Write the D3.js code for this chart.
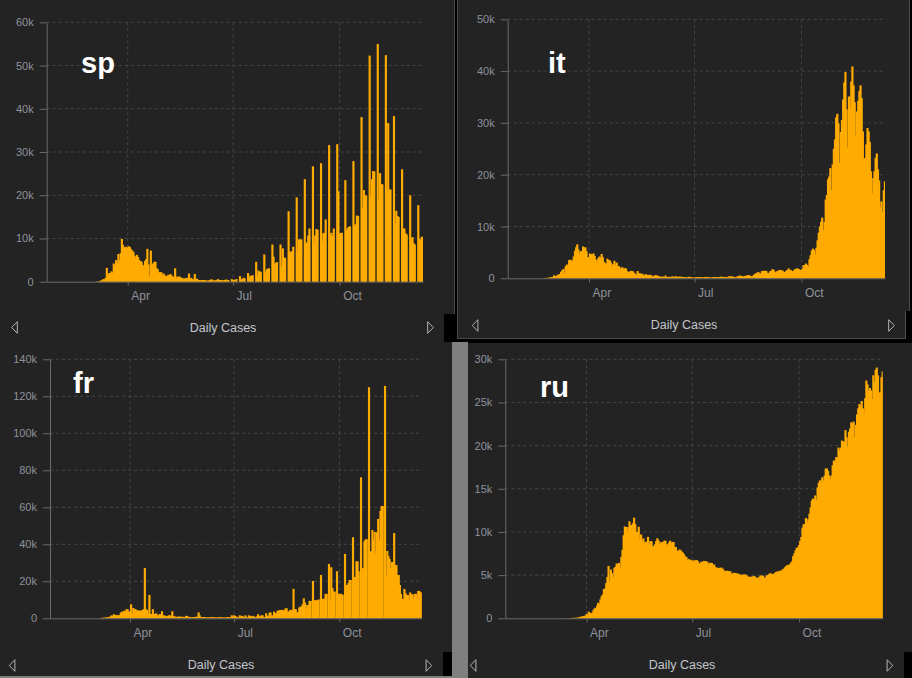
<!DOCTYPE html>
<html>
<head>
  <meta charset="utf-8">
  <title>Daily Cases</title>
  <script src="https://d3js.org/d3.v7.min.js"></script>
  <style>
    body { margin: 0; background: #000; }
    svg { display: block; }
  </style>
</head>
<body>
<script>
// daily new cases in thousands, one value per day from 2020-01-22 to 2020-12-11
var spCases = [
  0,0,0,0,0,0,0,0,0,0,
  0,0,0,0,0,0,0,0,0,0, 0,0,0,0,0,0,0,0,0,0, 0,0,0,0,0,0,0,0,0,
  0,0,0,0.05,0.05, 0.1,0.1,0.3,0.3,0.6, 0.5,0.9,3.2,1.5,2.0, 1.9,2.4,2.1,4.2,3.5, 5.0,4.3,6.4,5.0,6.6, 9.9,8.5,8.0,7.9,8.1, 7.8,
  8.2,8.0,7.5,7.2,6.9, 6.0,5.5,6.2,5.7,5.0, 4.8,4.6,3.9,3.5,4.8, 5.2,7.6,4.0,1.2,7.2, 4.0,4.2,4.6,4.6,3.1, 2.9,2.1,2.2,2.2,1.5,
  1.9,1.5,1.3,1.2,1.6, 1.5,1.8,1.4,1.2,1.0, 3.1,0.9,1.2,1.1,1.2, 0.8,0.9,0.6,0.8,0.7, 0.9,0.8,1.9,0.6,0.9, 0.5,0.6,1.8,0.5,0.7, 0.4,
  0.4,0.3,0.4,0.4,0.4, 0.3,0.3,0.2,0.3,0.4, 0.5,0.5,0.3,0.3,0.3, 0.4,0.6,0.4,0.4,0.4, 0.3,0.3,0.4,0.5,0.4, 0.4,0,0,0.6,0.4,
  0.4,0.5,0.6,0,0, 1.3,0.4,0.6,0.9,0.8, 0,0,2.0,0.9,1.4, 1.3,1.5,0,0,4.6, 1.4,2.6,2.3,2.3,0, 0,6.3,2.1,2.8,3.0, 3.1,
  0,0,8.6,5.8,4.0, 4.4,4.5,0,0,8.6, 3.6,7.7,5.6,5.5,0, 0,16.3,6.8,7.0,7.0, 8.1,0,0,19.5,7.1, 9.8,9.7,9.8,0,0, 23.7,
  8.7,9.1,10.7,12.3,0, 0,26.7,8.9,10.7,12.2, 12.0,0,0,27.4,9.4, 11.2,11.3,14.4,0,0, 31.6,10.8,11.3,10.6,12.3, 0,0,31.8,20.9,11.0,
  11.3,11.3,0,0,23.5, 11.9,12.4,12.7,12.8,0, 0,27.9,13.0,13.3,15.3, 15.2,0,0,38.1,17.0, 21.2,20.0,19.9,0,0, 52.3,19.8,23.7,25.6,25.5, 0,
  0,55.0,18.9,25.1,22.6, 22.5,0,0,52.4,21.0, 36.7,21.4,21.3,0,0, 38.3,13.5,16.4,15.2,15.0, 0,0,26.0,12.3,12.3, 11.2,10.9,0,0,20.0,
  10.0,10.3,8.9,8.6,0, 0,17.7,9.9,9.7,10.4, 10.3
];

var itCases = [
  0,0,0,0,0,0,0,0,0,0,
  0,0,0,0,0,0,0,0,0,0, 0,0,0,0,0,0,0,0,0,0, 0.02,0.04,0.09,0.07,0.09,0.13,0.2,0.23,0.24,
  0.57,0.34,0.47,0.59,0.77,0.78,1.25,1.49,1.80,0.98, 2.31,2.65,2.55,3.50,3.59,3.23,3.53,4.21,5.32,5.99, 6.56,5.56,4.79,5.25,5.21,6.15,5.96,5.97,5.22,4.05, 4.05,
  4.78,4.67,4.59,4.81,4.32,3.60,3.04,3.84,4.20,3.95, 4.69,4.09,3.15,2.97,2.67,3.79,3.49,3.49,3.05,2.26, 2.73,3.37,2.65,3.02,2.36,2.32,1.74,2.09,2.09,1.87,
  1.97,1.90,1.39,1.22,1.08,1.44,1.40,1.33,1.08,0.80, 0.74,1.40,0.89,0.99,0.79,0.88,0.68,0.45,0.81,0.67, 0.64,0.65,0.67,0.53,0.30,0.40,0.58,0.59,0.52,0.42, 0.36,
  0.18,0.32,0.32,0.18,0.52,0.27,0.20,0.28,0.28,0.20, 0.38,0.16,0.35,0.34,0.30,0.21,0.33,0.33,0.25,0.26, 0.22,0.22,0.12,0.19,0.30,0.26,0.18,0.17,0.13,0.14,
  0.19,0.20,0.22,0.24,0.19,0.21,0.14,0.19,0.23,0.28, 0.19,0.23,0.17,0.11,0.16,0.23,0.23,0.25,0.22,0.19, 0.13,0.28,0.31,0.25,0.28,0.26,0.17,0.21,0.29,0.39, 0.38,
  0.30,0.35,0.24,0.16,0.19,0.38,0.40,0.55,0.35,0.46, 0.26,0.41,0.48,0.52,0.57,0.63,0.48,0.32,0.40,0.64, 0.85,0.95,1.07,1.21,0.95,0.88,1.37,1.41,1.46,1.44, 1.37,
  1.00,0.98,1.33,1.40,1.73,1.70,1.30,1.11,1.37,1.43, 1.60,1.62,1.50,1.46,1.01,1.23,1.45,1.59,1.91,1.64, 1.59,1.35,1.39,1.64,1.79,1.91,1.87,1.77,1.49,1.65,
  1.85,2.55,2.50,2.84,2.58,2.26,3.68,4.46,5.37,5.72, 5.46,4.62,5.90,7.33,8.80,10.01,10.93,11.71,9.34,10.87, 15.20,16.08,19.14,19.64,21.27,17.01,21.99,24.99,26.83,31.08, 31.76,
  29.91,22.25,28.24,30.55,34.51,37.81,39.81,32.62,25.27,35.10, 32.96,37.98,40.90,37.26,33.98,27.35,32.19,34.28,36.18,37.24, 34.77,28.34,22.93,23.23,25.85,29.00,28.35,26.32,20.65,16.38,
  19.35,20.71,23.23,24.10,21.05,18.89,13.72,14.84,12.76,17.00, 18.73
];

var frCases = [
  0,0,0,0,0,0,0,0,0,0,
  0,0,0,0,0,0,0,0,0,0, 0,0,0,0,0,0,0,0,0,0, 0,0,0,0,0,0,0,0,0,
  0,0,0,0,0.1, 0.2,0.2,0.4,0.3,0.4, 0.5,0.6,0.8,1.0,1.6, 1.2,2.2,1.6,1.7,1.6, 1.6,1.8,3.0,3.6,3.4, 4.1,3.9,4.9,4.9,3.6, 3.6,
  7.6,2.7,5.6,4.9,4.9, 4.1,4.3,4.1,4.1,4.2, 4.5,4.9,27.2,4.9,4.5, 2.7,12.6,2.3,2.3,4.9, 2.3,2.4,2.7,1.6,1.6, 2.3,2.2,3.8,1.6,1.6,
  0.9,1.3,1.0,1.6,1.6, 1.0,3.8,1.3,0.9,0.9, 0.5,0.9,0.9,0.9,0.7, 0.9,0.5,0.6,1.3,1.3, 0.7,0.8,0.5,0.5,0.6, 0.7,0.6,0.9,0.7,3.2, 1.6,
  0.5,0.6,0.7,0.6,0.6, 0.5,0.4,0.4,0.5,0.6, 0.6,0.6,0.5,0.4,0.4, 0.5,0.6,0.6,0.5,0.4, 0.4,0.4,0.5,0.6,0.6, 0.5,0.4,1.6,0.6,1.6,
  1.3,0.9,0.6,0.5,1.6, 0.5,1.3,0.9,0.6,1.6, 0.5,0.5,1.6,0.5,1.3, 0.6,1.3,0.5,0.6,1.0, 2.2,1.3,0.9,1.6,1.6, 0.6,0.6,2.7,1.3,1.4, 3.1,
  3.1,1.3,1.6,3.6,2.7, 2.7,4.1,4.1,4.5,4.5, 4.5,4.5,4.2,5.4,5.4, 3.6,3.6,4.5,4.0,4.7, 15.9,4.9,4.9,3.2,3.2, 5.8,6.3,6.3,7.6,10.8, 8.5,
  5.0,7.2,7.2,9.4,9.4, 0.4,20.2,9.7,9.7,9.7, 9.8,10.2,0.5,23.4,10.5, 10.5,10.6,13.2,13.2,0.5, 29.4,10.5,27.6,16.4,14.4, 14.4,0.5,25.4,13.0,13.3,
  13.2,13.2,12.6,0.5,34.8, 18.0,18.0,19.0,20.7,20.7, 0.5,43.8,22.3,22.3,30.8, 30.8,25.4,0.5,76.2,27.0, 27.0,41.6,42.7,42.7,0.5, 124.9,36.2,36.2,47.7,42.3, 46.7,
  35.1,46.5,53.7,42.2,58.0, 60.7,60.7,0.5,125.6,22.9, 36.4,33.7,32.1,27.2,30.4, 30.4,46.1,28.8,28.8,23.4, 23.4,18.0,13.2,10.5,10.5, 15.9,13.5,12.6,12.6,9.7,
  14.0,13.0,13.0,11.2,13.2, 13.2,10.8,14.8,14.8,14.2, 13.7
];

var ruCases = [
  0,0,0,0,0,0,0,0,0,0,
  0,0,0,0,0,0,0,0,0,0, 0,0,0,0,0,0,0,0,0,0, 0,0,0,0,0,0,0,0,0,
  0,0,0,0,0, 0,0,0,0,0, 0.01,0.01,0.01,0.01,0.01, 0.03,0.02,0.03,0.05,0.05, 0.05,0.06,0.07,0.06,0.16, 0.18,0.20,0.23,0.27,0.30, 0.50,
  0.44,0.77,0.60,0.58,0.66,0.95,1.15,1.18,1.46,1.79, 1.67,2.19,2.56,2.77,3.39,3.45,4.07,4.79,6.06,4.27, 5.64,5.24,4.77,5.85,5.97,6.36,6.20,6.41,5.84,7.10,
  7.93,9.62,10.63,10.58,10.10,10.56,11.23,10.70,10.82,11.01, 11.66,10.90,10.03,9.97,10.60,9.20,9.71,8.93,9.26,8.76, 8.85,8.89,9.43,8.60,8.95,8.92,8.34,8.37,8.57,8.95, 9.27,
  9.04,8.54,8.83,8.73,8.86,8.98,8.99,8.60,8.40,8.78, 8.99,8.71,8.84,8.84,8.25,8.25,7.84,7.79,7.97,7.89, 7.73,7.60,7.43,7.18,7.11,6.80,6.85,6.79,6.72,6.69,
  6.56,6.76,6.63,6.74,6.61,6.37,6.37,6.56,6.51,6.64, 6.62,6.61,6.54,6.25,6.42,6.43,6.41,6.11,6.23,5.94, 5.84,5.86,5.81,5.85,5.87,5.77,5.64,5.40,5.48,5.51, 5.48,
  5.46,5.43,5.16,5.20,5.27,5.24,5.21,5.19,5.12,5.10, 4.95,5.04,5.06,5.07,5.06,4.97,4.84,4.75,4.83,4.77, 4.84,4.92,4.85,4.68,4.70,4.71,4.83,4.94,4.98,4.90, 4.73,
  4.67,4.95,5.00,5.11,5.20,5.19,5.10,5.10,5.22,5.36, 5.41,5.42,5.45,5.51,5.53,5.67,5.76,5.91,6.07,6.15, 6.20,6.22,6.43,6.60,7.21,7.52,7.87,8.14,8.23,8.48,
  8.95,9.41,10.50,10.89,10.89,11.62,11.12,11.49,12.13,12.85, 13.63,13.87,13.75,14.23,13.75,15.15,15.70,15.98,15.72,16.32, 15.97,16.52,17.34,17.35,17.09,16.55,16.20,16.54,17.72,18.28, 18.14,
  18.67,18.65,19.77,19.40,19.77,20.58,20.50,20.40,21.80,20.98, 19.85,21.61,21.98,22.70,22.57,22.78,20.98,22.41,23.61,24.32, 24.82,24.58,25.17,24.33,23.68,25.49,27.54,27.10,26.34,26.68,
  26.40,25.35,28.15,27.40,28.78,29.04,28.14,26.10,26.19,27.93, 28.59
];

var countries = ["sp", "it", "fr", "ru"];
var monthTicks = ["2020-04-01", "2020-07-01", "2020-10-01"];
var spTicks = [0, 10, 20, 30, 40, 50, 60];
var itTicks = [0, 10, 20, 30, 40, 50];
var frTicks = [0, 20, 40, 60, 80, 100, 120, 140];
var ruTicks = [0, 5, 10, 15, 20, 25, 30];
var footerText = "Daily Cases";

var width = 912;
var height = 678;
var barColor = "#ffab00";
var panelColor = "#232323";
var textColor = "#8e929b";

// days of the series
var dates = d3.utcDay.range(new Date(Date.UTC(2020, 0, 22)), new Date(Date.UTC(2020, 11, 12)));
var tickDates = monthTicks.map(function(s) { return d3.utcParse("%Y-%m-%d")(s); });

var svg = d3.select("body").append("svg").attr("width", width).attr("height", height);

// screenshot frames: background, panels, dividers
svg.append("rect").attr("width", width).attr("height", height).attr("fill", "#000");
svg.append("rect").attr("x", 0).attr("y", 0).attr("width", 455).attr("height", 342).attr("fill", panelColor);
svg.append("rect").attr("x", 457).attr("y", 0).attr("width", 453).attr("height", 311).attr("fill", panelColor);
svg.append("rect").attr("x", 457).attr("y", 311).attr("width", 449).attr("height", 28).attr("fill", panelColor);
svg.append("rect").attr("x", 0).attr("y", 342).attr("width", 452).attr("height", 334).attr("fill", panelColor);
svg.append("rect").attr("x", 468).attr("y", 343).attr("width", 444).attr("height", 335).attr("fill", panelColor);
svg.append("rect").attr("x", 452).attr("y", 342).attr("width", 16).attr("height", 336).attr("fill", "#808080");
svg.append("rect").attr("x", 0).attr("y", 676).attr("width", 452).attr("height", 2).attr("fill", "#808080");
svg.append("rect").attr("x", 444).attr("y", 314).attr("width", 13).attr("height", 28).attr("fill", "#000");
svg.append("rect").attr("x", 443).attr("y", 652).attr("width", 9).attr("height", 24).attr("fill", "#000");
svg.append("rect").attr("x", 904).attr("y", 652).attr("width", 8).attr("height", 26).attr("fill", "#000");

var frameLines = [
  [454.5, 0, 454.5, 314],
  [457.5, 0, 457.5, 339],
  [457, 338.5, 906, 338.5],
  [905.5, 311, 905.5, 339],
  [909.5, 0, 909.5, 311]
];
svg.selectAll(".frame").data(frameLines).enter().append("line")
  .attr("x1", function(d) { return d[0]; })
  .attr("y1", function(d) { return d[1]; })
  .attr("x2", function(d) { return d[2]; })
  .attr("y2", function(d) { return d[3]; })
  .attr("stroke", "#4a4a4a")
  .attr("stroke-width", 1);

// layout of the four charts
var panels = [
  { values: spCases, ticks: spTicks, left: 46.7, right: 423, top: 22.3, bottom: 281.7,
    labelX: 81, labelY: 73, footX: 223, footY: 331.5, arrowL: 11.7, arrowR: 433.3, arrowY: 327.5 },
  { values: itCases, ticks: itTicks, left: 507.7, right: 885, top: 19.3, bottom: 278.3,
    labelX: 548, labelY: 73, footX: 684, footY: 328.5, arrowL: 472.3, arrowR: 894.3, arrowY: 325.5 },
  { values: frCases, ticks: frTicks, left: 50, right: 421.7, top: 359.3, bottom: 618.3,
    labelX: 73, labelY: 393, footX: 221, footY: 668.5, arrowL: 9.3, arrowR: 431.7, arrowY: 665.5 },
  { values: ruCases, ticks: ruTicks, left: 505.3, right: 882.7, top: 359.3, bottom: 618.3,
    labelX: 540, labelY: 397, footX: 682, footY: 668.5, arrowL: 470.3, arrowR: 892.7, arrowY: 665.5 }
];

panels.forEach(function(p, k) {
  var g = svg.append("g");

  var x = d3.scaleUtc()
    .domain([dates[0], d3.utcDay.offset(dates[dates.length - 1], 1)])
    .range([p.left, p.right]);
  var y = d3.scaleLinear()
    .domain([0, p.ticks[p.ticks.length - 1]])
    .range([p.bottom, p.top]);

  // dashed grid
  g.selectAll(".hgrid").data(p.ticks.slice(1)).enter().append("line")
    .attr("x1", p.left).attr("x2", p.right)
    .attr("y1", function(d) { return y(d); })
    .attr("y2", function(d) { return y(d); })
    .attr("stroke", "#464646")
    .attr("stroke-dasharray", "3,3");
  g.selectAll(".vgrid").data(tickDates).enter().append("line")
    .attr("x1", function(d) { return x(d); })
    .attr("x2", function(d) { return x(d); })
    .attr("y1", p.top).attr("y2", p.bottom)
    .attr("stroke", "#464646")
    .attr("stroke-dasharray", "3,3");

  // one bar per day; 1px overlap so filled runs show no seams
  g.selectAll(".bar").data(p.values).enter().append("rect")
    .attr("x", function(d, i) { return x(dates[i]); })
    .attr("width", function(d, i) { return Math.min(x(d3.utcDay.offset(dates[i], 1)) + 1, p.right) - x(dates[i]); })
    .attr("y", function(d) { return y(d); })
    .attr("height", function(d) { return p.bottom - y(d); })
    .attr("fill", barColor);

  // axes
  var axisy = d3.axisLeft(y).tickValues(p.ticks).tickSize(7).tickPadding(6).tickSizeOuter(0)
    .tickFormat(function(d) { return d === 0 ? "0" : d + "k"; });
  var gy = g.append("g")
    .attr("transform", "translate(" + p.left + ",0)")
    .call(axisy);
  gy.select(".domain").attr("stroke", "#6a6a6a");
  gy.selectAll(".tick line").attr("stroke", "#6a6a6a");
  gy.selectAll("text").attr("fill", textColor).attr("font-size", "11px")
    .attr("font-family", "'Liberation Sans', Arial, sans-serif");

  var axisx = d3.axisBottom(x).tickValues(tickDates).tickSize(4).tickSizeOuter(0)
    .tickFormat(d3.utcFormat("%b"));
  var gx = g.append("g")
    .attr("transform", "translate(0," + p.bottom + ")")
    .call(axisx);
  gx.select(".domain").attr("stroke", "#6a6a6a");
  gx.selectAll(".tick line").attr("stroke", "#6a6a6a");
  gx.selectAll("text")
    .attr("fill", textColor)
    .attr("font-size", "12px")
    .attr("font-family", "'Liberation Sans', Arial, sans-serif")
    .attr("text-anchor", "start")
    .attr("x", 3)
    .attr("y", 10)
    .attr("dy", "0.71em");

  // country label
  svg.append("text")
    .attr("x", p.labelX).attr("y", p.labelY)
    .attr("fill", "#fff")
    .attr("font-size", "29px")
    .attr("font-weight", "bold")
    .attr("font-family", "'Liberation Sans', Arial, sans-serif")
    .text(countries[k]);

  // footer with arrows
  svg.append("text")
    .attr("x", p.footX).attr("y", p.footY)
    .attr("text-anchor", "middle")
    .attr("fill", "#c3c6cc")
    .attr("font-size", "12.5px")
    .attr("font-family", "'Liberation Sans', Arial, sans-serif")
    .text(footerText);

  var ay = p.arrowY;
  svg.append("path")
    .attr("d", "M" + p.arrowL + "," + ay + "L" + (p.arrowL + 5.6) + "," + (ay - 5.8) + "L" + (p.arrowL + 5.6) + "," + (ay + 5.8) + "Z")
    .attr("fill", "none").attr("stroke", "#b4b4b4");
  svg.append("path")
    .attr("d", "M" + p.arrowR + "," + ay + "L" + (p.arrowR - 5.6) + "," + (ay - 5.8) + "L" + (p.arrowR - 5.6) + "," + (ay + 5.8) + "Z")
    .attr("fill", "none").attr("stroke", "#b4b4b4");
});
</script>
</body>
</html>
